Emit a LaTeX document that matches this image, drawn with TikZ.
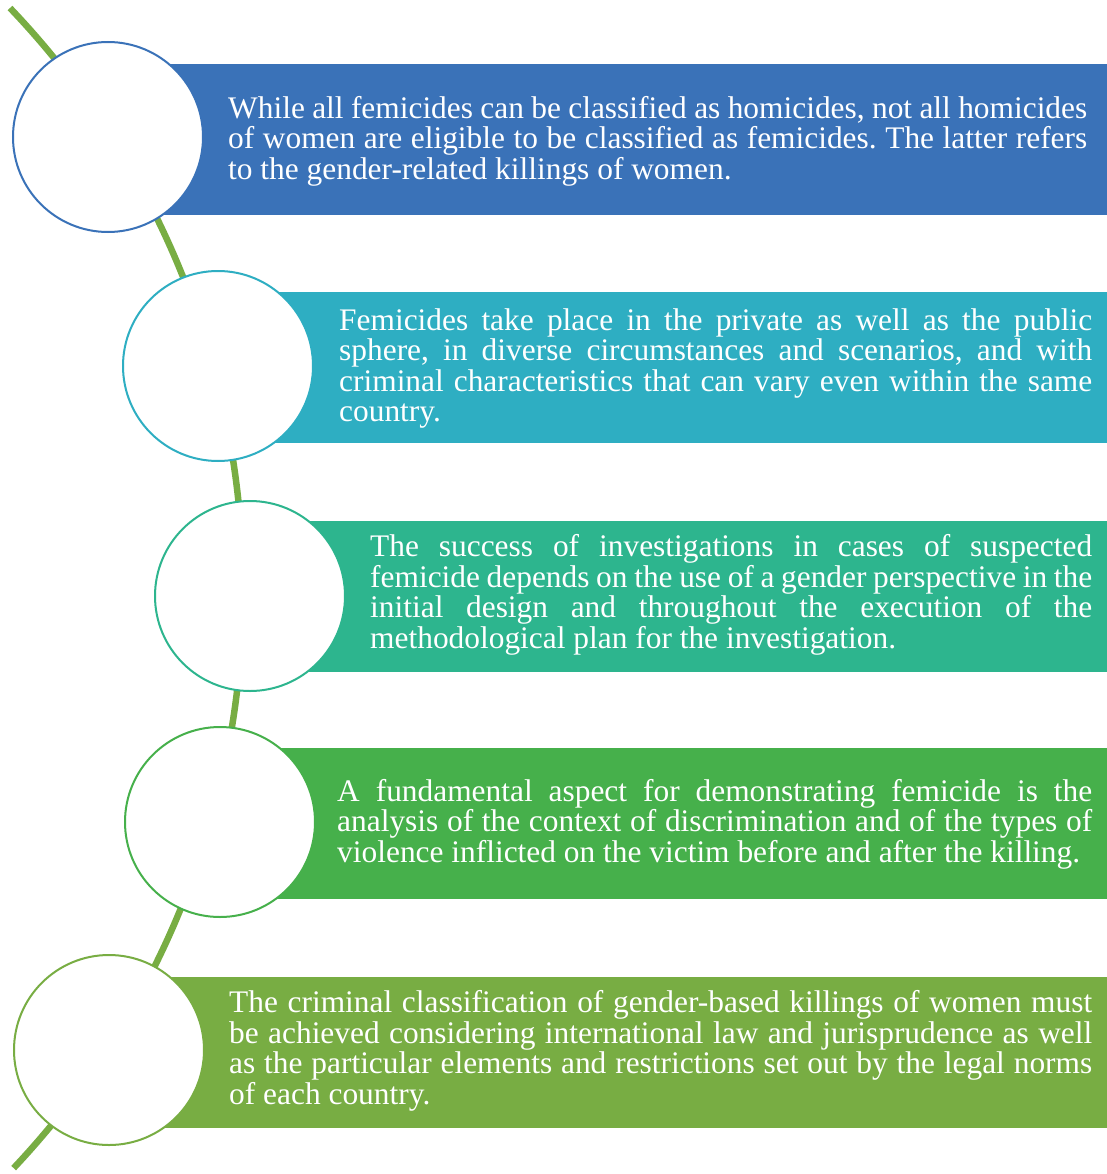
\documentclass[tikz,border=0pt]{standalone}
\usepackage{fontspec}
\setmainfont{Liberation Serif}
\usetikzlibrary{positioning}
\definecolor{bandA}{HTML}{3A72B8}
\definecolor{bandB}{HTML}{2EAEC2}
\definecolor{bandC}{HTML}{2DB58E}
\definecolor{bandD}{HTML}{46B04B}
\definecolor{bandE}{HTML}{78AD43}
\definecolor{stem}{HTML}{78AD43}
\begin{document}
\frenchspacing
\begin{tikzpicture}[x=1pt,y=-1pt]
\tikzset{band/.style={rectangle,fill=#1,anchor=west,minimum height=151pt,inner sep=0pt},
  dot/.style={circle,draw=#1,line width=2pt,fill=white,minimum size=190pt,inner sep=0pt},
  say/.style={anchor=west,text=white,align=justify,inner sep=0pt,
    font=\fontsize{31.4}{30.6}\selectfont,text width=#1}}
\useasboundingbox (0,0) rectangle (1107,1174);
% green stem behind everything
\coordinate (stemtop) at (10,8);
\draw[stem,line width=6.5pt] (stemtop) arc[start angle=-43.66,end angle=43.3,radius=843];

\node[band=bandA,minimum width=999pt] (b1) at (108,139.5) {};
\node[band=bandB,minimum width=889pt] (b2) at (218,367.5) {};
\node[band=bandC,minimum width=857pt] (b3) at (250,596.5) {};
\node[band=bandD,minimum width=887pt] (b4) at (220,823) {};
\node[band=bandE,minimum width=998pt] (b5) at (109,1052.5) {};

\node[dot=bandA] (c1) at (108,137) {};
\node[dot=bandB] (c2) at (218,366) {};
\node[dot=bandC] (c3) at (250,596) {};
\node[dot=bandD] (c4) at (220,822) {};
\node[dot=bandE] (c5) at (109,1050) {};

\node[say=859pt] (t1) at (228,141) {While all femicides can be classified as homicides, not all homicides\linebreak of women are eligible to be classified as femicides. The latter refers\linebreak to the gender-related killings of women.};
\node[say=753pt] (t2) at (339,368.5) {Femicides take place in the private as well as the public\linebreak sphere, in diverse circumstances and scenarios, and with\linebreak criminal characteristics that can vary even within the same\linebreak country.};
\node[say=722pt] (t3) at (370,595) {The success of investigations in cases of suspected\linebreak femicide depends on the use of a gender perspective in the\linebreak initial design and throughout the execution of the\linebreak methodological plan for the investigation.};
\node[say=755pt] (t4) at (337,824) {A fundamental aspect for demonstrating femicide is the\linebreak analysis of the context of discrimination and of the types of\linebreak violence inflicted on the victim before and after the killing.};
\node[say=863pt] (t5) at (229,1051) {The criminal classification of gender-based killings of women must\linebreak be achieved considering international law and jurisprudence as well\linebreak as the particular elements and restrictions set out by the legal norms\linebreak of each country.};
\end{tikzpicture}
\end{document}
